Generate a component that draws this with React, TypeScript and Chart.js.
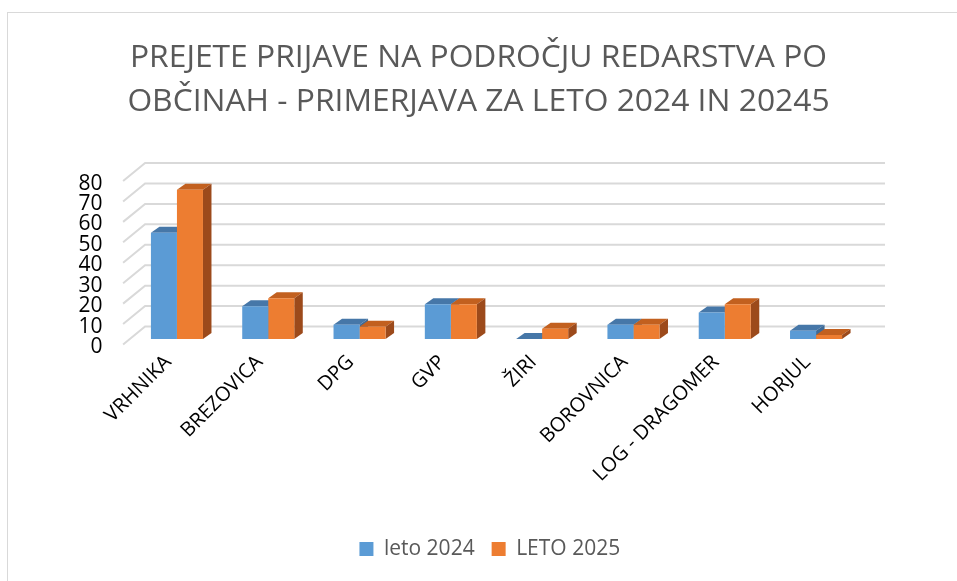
import React, { useEffect, useRef } from "react";
import { Chart, registerables } from "chart.js";

Chart.register(...registerables);

const categories = ["VRHNIKA", "BREZOVICA", "DPG", "GVP", "ŽIRI", "BOROVNICA", "LOG - DRAGOMER", "HORJUL"];
const leto2024 = [52, 16, 7, 17, 0, 7, 13, 4];
const leto2025 = [73, 20, 6, 17, 5, 7, 17, 2];
const seriesLabels = ["leto 2024", "LETO 2025"];
const titleLines = ["PREJETE PRIJAVE NA PODROČJU REDARSTVA PO", "OBČINAH - PRIMERJAVA ZA LETO 2024 IN 20245"];
const yTicks = [0, 10, 20, 30, 40, 50, 60, 70, 80];

const FONT = "'Open Sans', 'Noto Sans', sans-serif";
const SHIFT_X = 6.7;
const SHIFT_Y = -5.5;
const DEPTH_X = 8.5;
const DEPTH_Y = 6;
const WALL_X = 22;
const WALL_Y = 18;
const faceColors = [
  { front: "#5B9BD5", top: "#4677A8", side: "#3E6A96" },
  { front: "#ED7D31", top: "#C2601F", side: "#9C4A1B" },
];

const threeD = {
  id: "threeD",
  beforeDatasetsDraw(chart: any) {
    const { ctx, chartArea } = chart;
    const y = chart.scales.y;
    ctx.save();
    ctx.strokeStyle = "#d9d9d9";
    ctx.lineWidth = 2;
    const xf = chartArea.left - 1.5;
    const xb = xf + WALL_X;
    const xr = chartArea.right + 30;
    for (const v of yTicks) {
      const yf = y.getPixelForValue(v);
      const yb = yf - WALL_Y;
      ctx.beginPath();
      ctx.moveTo(xf, yf);
      ctx.lineTo(xb, yb);
      ctx.lineTo(xr, yb);
      ctx.stroke();
    }
    ctx.restore();

    ctx.save();
    ctx.translate(SHIFT_X, SHIFT_Y);
    chart.data.datasets.forEach((_ds: any, i: number) => {
      const meta = chart.getDatasetMeta(i);
      meta.data.forEach((bar: any) => {
        const { x, y: top, base, width } = bar.getProps(["x", "y", "base", "width"], true);
        const l = x - width / 2;
        const r = x + width / 2;
        ctx.fillStyle = faceColors[i].top;
        ctx.beginPath();
        ctx.moveTo(l, top);
        ctx.lineTo(l + DEPTH_X, top - DEPTH_Y);
        ctx.lineTo(r + DEPTH_X, top - DEPTH_Y);
        ctx.lineTo(r, top);
        ctx.closePath();
        ctx.fill();
        ctx.fillStyle = faceColors[i].side;
        ctx.beginPath();
        ctx.moveTo(r, top);
        ctx.lineTo(r + DEPTH_X, top - DEPTH_Y);
        ctx.lineTo(r + DEPTH_X, base - DEPTH_Y);
        ctx.lineTo(r, base);
        ctx.closePath();
        ctx.fill();
      });
    });
  },
  afterDatasetsDraw(chart: any) {
    chart.ctx.restore();
  },
};

export default function App() {
  const ref = useRef<HTMLCanvasElement | null>(null);

  useEffect(() => {
    if (!ref.current) return;
    Chart.defaults.font.family = FONT;
    const chart = new Chart(ref.current, {
      type: "bar",
      data: {
        labels: categories,
        datasets: [
          {
            label: seriesLabels[0],
            data: leto2024,
            backgroundColor: faceColors[0].front,
            borderWidth: 0,
            categoryPercentage: 0.57,
            barPercentage: 1.0,
          },
          {
            label: seriesLabels[1],
            data: leto2025,
            backgroundColor: faceColors[1].front,
            borderWidth: 0,
            categoryPercentage: 0.57,
            barPercentage: 1.0,
          },
        ],
      },
      options: {
        animation: false,
        responsive: false,
        maintainAspectRatio: false,
        layout: { padding: { top: 24, right: 70, bottom: 11.5, left: 70 } },
        plugins: {
          title: {
            display: true,
            text: titleLines,
            color: "#595959",
            font: { family: FONT, size: 31.8, weight: "normal", lineHeight: 1.384 },
            padding: { top: 12, bottom: 57 },
          },
          legend: {
            display: true,
            position: "bottom",
            fullSize: false,
            labels: {
              color: "#595959",
              font: { family: FONT, size: 21 },
              boxWidth: 14,
              boxHeight: 14,
              padding: 17,
            },
          },
          tooltip: { enabled: false },
        },
        scales: {
          x: {
            grid: { display: false, drawTicks: false },
            border: { display: false },
            ticks: {
              color: "#000",
              font: { family: FONT, size: 20 },
              minRotation: 45,
              maxRotation: 45,
              autoSkip: false,
              padding: 6,
              labelOffset: -2,
            },
            afterFit: (scale: any) => {
              scale.height = 177;
            },
          },
          y: {
            min: 0,
            max: 80,
            grid: { display: false, drawTicks: false },
            border: { display: false },
            ticks: {
              stepSize: 10,
              autoSkip: false,
              color: "#000",
              font: { family: FONT, size: 21 },
              padding: 22,
              labelOffset: 2.5,
            },
            afterFit: (scale: any) => {
              scale.width = 54.6;
            },
          },
          yRight: {
            position: "right",
            display: true,
            grid: { display: false, drawTicks: false },
            border: { display: false },
            ticks: { display: false },
            afterFit: (scale: any) => {
              scale.width = 32;
            },
          },
        },
      },
      plugins: [threeD],
    });
    return () => chart.destroy();
  }, []);

  return (
    <div style={{ position: "fixed", inset: 0, overflow: "hidden", background: "#fff" }}>
      <div
        style={{
          position: "absolute",
          left: 7,
          top: 12,
          width: 1000,
          height: 620,
          border: "1px solid #d9d9d9",
          boxSizing: "border-box",
        }}
      />
      <canvas ref={ref} width={957} height={581} style={{ position: "absolute", left: 0, top: 0 }} />
    </div>
  );
}
